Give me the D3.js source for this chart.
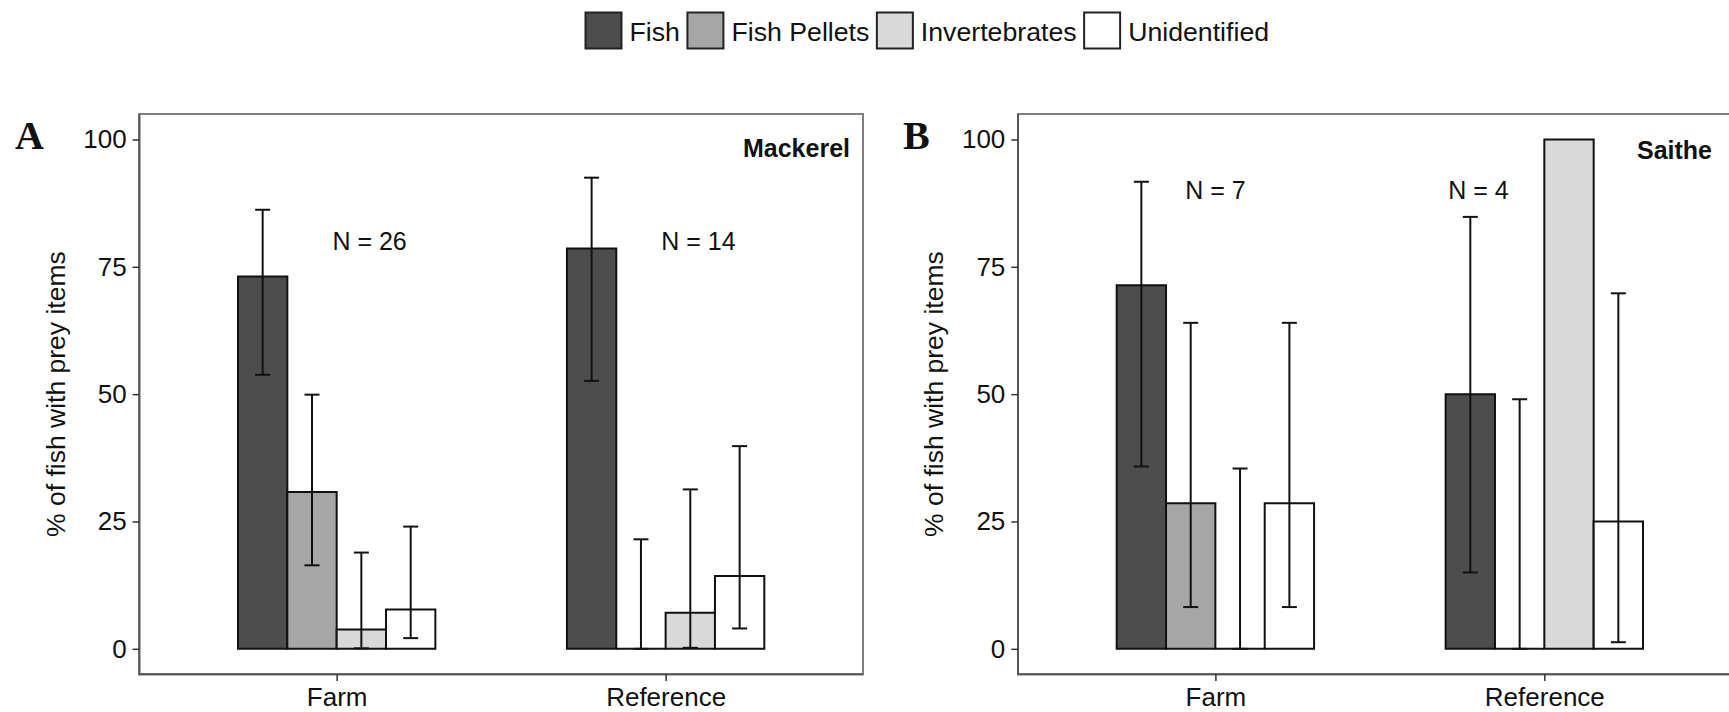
<!DOCTYPE html>
<html>
<head>
<meta charset="utf-8">
<script src="https://cdn.jsdelivr.net/npm/d3@7"></script>
<style>
  html, body { margin: 0; padding: 0; background: #fff; }
  svg { display: block; font-family: "Liberation Sans", Arial, sans-serif; }
</style>
</head>
<body>
<div id="chart"></div>
<script>
// data
const sites = ["Farm", "Reference"];
const preyTypes = ["Fish", "Fish Pellets", "Invertebrates", "Unidentified"];
const preyColors = ["#4d4d4d", "#a6a6a6", "#d9d9d9", "#ffffff"];
const yTicks = [0, 25, 50, 75, 100];

// Mackerel, per site: Fish, Fish Pellets, Invertebrates, Unidentified
const mackerelValues = [[73.1, 30.8, 3.8, 7.7], [78.6, 0, 7.1, 14.3]];
const mackerelLower = [[53.8, 16.4, 0.1, 2.1], [52.6, 0, 0.2, 4.0]];
const mackerelUpper = [[86.2, 49.9, 18.9, 24.0], [92.5, 21.5, 31.3, 39.8]];
const mackerelN = [26, 14];

// Saithe
const saitheValues = [[71.4, 28.6, 0, 28.6], [50, 0, 100, 25]];
const saitheLower = [[35.8, 8.2, 0, 8.2], [15.0, 0, null, 1.3]];
const saitheUpper = [[91.7, 64.0, 35.4, 64.0], [84.8, 49.0, null, 69.8]];
const saitheN = [7, 4];

// layout
const width = 1729, height = 712;
const panelTop = 114, panelBottom = 674.3, panelWidth = 723.7;

const svg = d3.select("#chart")
  .append("svg")
  .attr("width", width)
  .attr("height", height);

const scaleColor = d3.scaleOrdinal().domain(preyTypes).range(preyColors);

function toRows(values, lower, upper) {
  const rows = [];
  sites.forEach((s, i) => {
    preyTypes.forEach((p, j) => {
      rows.push({ site: s, prey: p, value: values[i][j], lo: lower[i][j], hi: upper[i][j] });
    });
  });
  return rows;
}

const panels = [
  {
    letter: "A", title: "Mackerel", left: 139.3, letterX: 15, titleX: 850, titleY: 157,
    rows: toRows(mackerelValues, mackerelLower, mackerelUpper),
    n: mackerelN, nOffset: [0.1, 0.1], nY: 80, axisTitleX: 65
  },
  {
    letter: "B", title: "Saithe", left: 1018, letterX: 903, titleX: 1712, titleY: 159.3,
    rows: toRows(saitheValues, saitheLower, saitheUpper),
    n: saitheN, nOffset: [0, -0.2], nY: 90, axisTitleX: 943
  }
];

panels.forEach(p => renderPanel(svg.append("g"), p));
renderLegend(svg.append("g"));

function renderPanel(root, p) {
  const scaleX = d3.scalePoint()
    .domain(sites)
    .range([p.left, p.left + panelWidth])
    .padding(0.6);
  const step = scaleX.step();
  const scaleInner = d3.scaleBand()
    .domain(preyTypes)
    .range([-0.3 * step, 0.3 * step]);
  const scaleY = d3.scaleLinear()
    .domain([-5, 105])
    .range([panelBottom, panelTop]);

  // panel border
  root.append("rect")
    .attr("x", p.left)
    .attr("y", panelTop)
    .attr("width", panelWidth)
    .attr("height", panelBottom - panelTop)
    .attr("fill", "none")
    .attr("stroke", "#7f7f7f")
    .attr("stroke-width", 2);
  root.append("path")
    .attr("d", `M${p.left},${panelTop}V${panelBottom}H${p.left + panelWidth}`)
    .attr("fill", "none")
    .attr("stroke", "#555")
    .attr("stroke-width", 2);

  // axes
  root.append("g")
    .attr("transform", `translate(${p.left},0)`)
    .call(d3.axisLeft(scaleY).tickValues(yTicks).tickSize(6.7).tickPadding(6))
    .call(g => g.select(".domain").remove())
    .call(g => g.selectAll(".tick line").attr("stroke", "#333").attr("stroke-width", 1.5))
    .call(g => g.selectAll(".tick text")
      .attr("fill", "#111")
      .style("font-family", "'Liberation Sans', Arial, sans-serif")
      .style("font-size", "26px"));

  root.append("g")
    .attr("transform", `translate(0,${panelBottom})`)
    .call(d3.axisBottom(scaleX).tickSize(6.7).tickPadding(7))
    .call(g => g.select(".domain").remove())
    .call(g => g.selectAll(".tick line").attr("stroke", "#333").attr("stroke-width", 1.5))
    .call(g => g.selectAll(".tick text")
      .attr("fill", "#111")
      .style("font-family", "'Liberation Sans', Arial, sans-serif")
      .style("font-size", "26px"));

  // axis title
  root.append("text")
    .attr("transform", `translate(${p.axisTitleX},${(panelTop + panelBottom) / 2}) rotate(-90)`)
    .attr("text-anchor", "middle")
    .attr("fill", "#111")
    .style("font-size", "26.5px")
    .text("% of fish with prey items");

  // bars (as paths so that zero-height bars still show their outline)
  const y0 = scaleY(0);
  root.append("g")
    .selectAll("path")
    .data(p.rows)
    .join("path")
    .attr("d", d => {
      const x0 = scaleX(d.site) + scaleInner(d.prey);
      const x1 = x0 + scaleInner.bandwidth();
      const y1 = scaleY(d.value);
      return `M${x0},${y0}H${x1}V${y1}H${x0}Z`;
    })
    .attr("fill", d => scaleColor(d.prey))
    .attr("stroke", "#111")
    .attr("stroke-width", 2);

  // error bars
  const whisker = 7.5;
  const errs = root.append("g")
    .selectAll("g")
    .data(p.rows.filter(d => d.lo != null && d.hi != null))
    .join("g")
    .attr("transform", d => `translate(${scaleX(d.site) + scaleInner(d.prey) + scaleInner.bandwidth() / 2},0)`)
    .attr("stroke", "#111")
    .attr("stroke-width", 2);
  errs.append("line")
    .attr("y1", d => scaleY(d.lo))
    .attr("y2", d => scaleY(d.hi));
  errs.append("line")
    .attr("x1", -whisker).attr("x2", whisker)
    .attr("y1", d => scaleY(d.hi)).attr("y2", d => scaleY(d.hi));
  errs.append("line")
    .attr("x1", -whisker).attr("x2", whisker)
    .attr("y1", d => scaleY(d.lo)).attr("y2", d => scaleY(d.lo));

  // sample sizes
  root.append("g")
    .selectAll("text")
    .data(sites)
    .join("text")
    .attr("x", (s, i) => scaleX(s) + p.nOffset[i] * step)
    .attr("y", scaleY(p.nY))
    .attr("dy", "0.35em")
    .attr("text-anchor", "middle")
    .attr("fill", "#111")
    .style("font-size", "25px")
    .text((s, i) => `N = ${p.n[i]}`);

  // species title
  root.append("text")
    .attr("x", p.titleX)
    .attr("y", p.titleY)
    .attr("text-anchor", "end")
    .attr("fill", "#111")
    .style("font-size", "25px")
    .style("font-weight", "bold")
    .text(p.title);

  // panel letter
  root.append("text")
    .attr("x", p.letterX)
    .attr("y", 149)
    .attr("fill", "#111")
    .style("font-family", "'Liberation Serif', 'Times New Roman', serif")
    .style("font-size", "40px")
    .style("font-weight", "bold")
    .text(p.letter);
}

function renderLegend(root) {
  const keySize = 38;
  let x = 584.5;
  preyTypes.forEach(prey => {
    root.append("rect")
      .attr("x", x + 1)
      .attr("y", 12.5)
      .attr("width", keySize - 2)
      .attr("height", keySize - 2)
      .attr("fill", scaleColor(prey))
      .attr("stroke", "#222")
      .attr("stroke-width", 2);
    const t = root.append("text")
      .attr("x", x + keySize + 7)
      .attr("y", 40.7)
      .attr("fill", "#111")
      .style("font-size", "26.7px")
      .text(prey);
    x += keySize + 7 + t.node().getComputedTextLength() + 6.5;
  });
}
</script>
</body>
</html>
